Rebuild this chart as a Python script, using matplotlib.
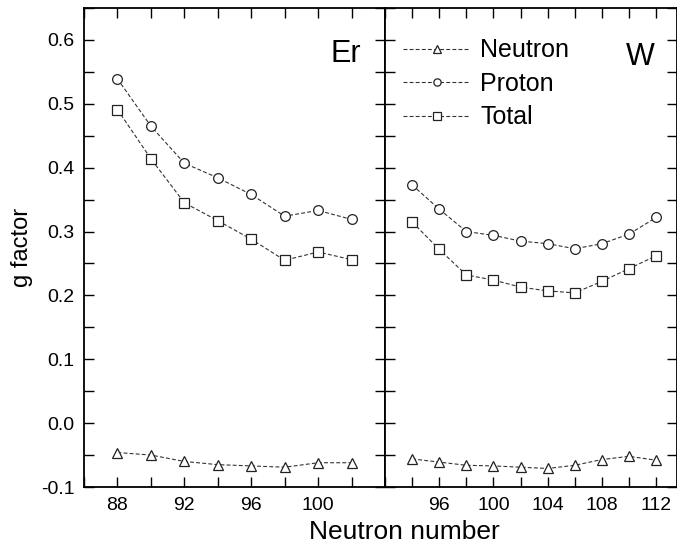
import matplotlib
matplotlib.use("Agg")
import matplotlib.pyplot as plt
from matplotlib.ticker import MultipleLocator, FormatStrFormatter

plt.rcParams['font.family'] = ['Liberation Sans', 'DejaVu Sans']

# Er data
er_n = [88, 90, 92, 94, 96, 98, 100, 102]
er_neutron = [-0.046, -0.050, -0.060, -0.065, -0.067, -0.069, -0.062, -0.062]
er_proton = [0.539, 0.465, 0.407, 0.384, 0.358, 0.324, 0.333, 0.319]
er_total = [0.491, 0.414, 0.345, 0.317, 0.288, 0.255, 0.268, 0.256]

# W data
w_n = [94, 96, 98, 100, 102, 104, 106, 108, 110, 112]
w_neutron = [-0.056, -0.061, -0.066, -0.067, -0.069, -0.071, -0.066, -0.057, -0.052, -0.058]
w_proton = [0.373, 0.335, 0.300, 0.294, 0.285, 0.281, 0.273, 0.281, 0.296, 0.322]
w_total = [0.315, 0.272, 0.232, 0.224, 0.213, 0.207, 0.204, 0.222, 0.242, 0.262]

labels = ["Neutron", "Proton", "Total"]
markers = ["^", "o", "s"]
er_xticks = [88, 92, 96, 100]
w_xticks = [96, 100, 104, 108, 112]

fig = plt.figure(figsize=(6.77, 5.51), dpi=100)
W, H = 677, 551
axL = fig.add_axes([84 / W, 1 - 487 / H, (385 - 84) / W, (487 - 8) / H])
axR = fig.add_axes([385 / W, 1 - 487 / H, (676.5 - 385) / W, (487 - 8) / H])

line_kw = dict(color="#333333", lw=0.8, ls=(0, (3.5, 2)), mfc="white",
               mec="#222222", mew=0.9, ms=7)

for ax, xs, series in [(axL, er_n, [er_neutron, er_proton, er_total]),
                       (axR, w_n, [w_neutron, w_proton, w_total])]:
    for ys, m, lab in zip(series, markers, labels):
        ax.plot(xs, ys, marker=m, label=lab, **line_kw)
    ax.set_ylim(-0.1, 0.65)
    ax.yaxis.set_major_locator(MultipleLocator(0.1))
    ax.yaxis.set_minor_locator(MultipleLocator(0.05))
    ax.xaxis.set_minor_locator(MultipleLocator(2))
    ax.tick_params(which="both", direction="in", top=True, right=True,
                   length=7, width=1.0, labelsize=14, pad=7)
    for s in ax.spines.values():
        s.set_linewidth(1.3)

axL.set_xlim(86, 104)
axR.set_xlim(92, 113.5)
axL.set_xticks(er_xticks)
axR.set_xticks(w_xticks)
axL.yaxis.set_major_formatter(FormatStrFormatter('%.1f'))
axR.tick_params(labelleft=False)

fig.text(22 / W, 1 - 247 / H, "g factor", fontsize=17, rotation=90,
         ha="center", va="center")
fig.text(404 / W, 1 - 532 / H, "Neutron number", fontsize=19,
         ha="center", va="center")

axL.text(0.92, 0.935, "Er", transform=axL.transAxes, fontsize=22,
         ha="right", va="top")
axR.text(0.925, 0.93, "W", transform=axR.transAxes, fontsize=22,
         ha="right", va="top")

axR.legend(loc="upper left", bbox_to_anchor=(0.01, 0.968), frameon=False,
           fontsize=18, handlelength=2.7, handletextpad=0.4,
           labelspacing=0.38, borderaxespad=0.2, markerscale=0.75)

fig.savefig("out.png", dpi=100)
